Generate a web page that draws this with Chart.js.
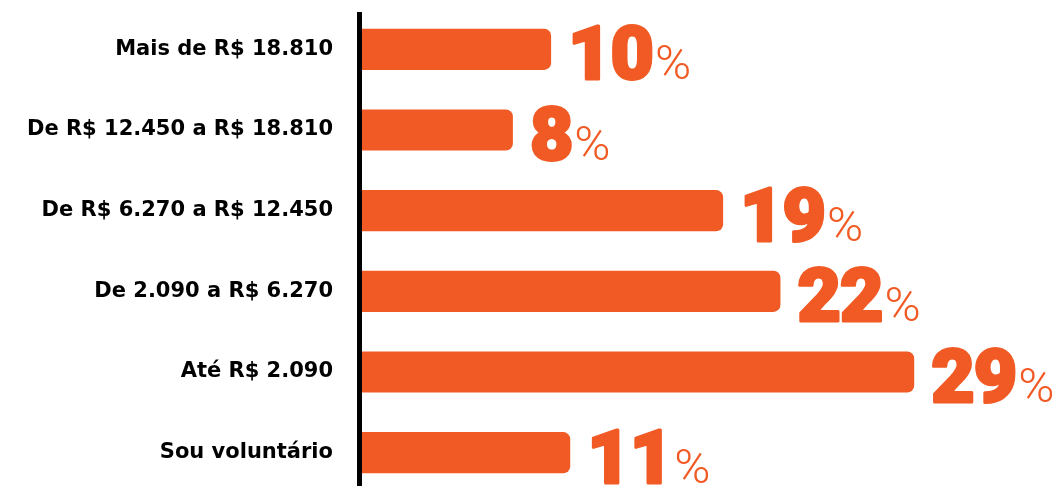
<!DOCTYPE html>
<html>
<head>
<meta charset="UTF-8" />
<script src="https://cdn.jsdelivr.net/npm/chart.js"></script>
<style>
  body, html {
    margin: 0;
    padding: 0;
    background: #ffffff;
    overflow: hidden;
  }
  #wrap {
    width: 1053px;
    height: 493px;
  }
</style>
</head>
<body>
<div id="wrap"><canvas id="myChart"></canvas></div>
<script>
  const faixas = [
    'Mais de R$ 18.810',
    'De R$ 12.450 a R$ 18.810',
    'De R$ 6.270 a R$ 12.450',
    'De 2.090 a R$ 6.270',
    'Até R$ 2.090',
    'Sou voluntário'
  ];
  const percentuais = [10, 8, 19, 22, 29, 11];

  const LARANJA = '#f15a24';

  // big number + thin "%" after each bar
  const valueLabels = {
    id: 'valueLabels',
    afterDatasetsDraw(chart) {
      const ctx = chart.ctx;
      const meta = chart.getDatasetMeta(0);
      ctx.save();
      ctx.fillStyle = LARANJA;
      ctx.strokeStyle = LARANJA;
      ctx.lineWidth = 3;
      ctx.lineJoin = 'round';
      ctx.textBaseline = 'alphabetic';
      ctx.textAlign = 'left';
      meta.data.forEach((bar, i) => {
        const num = String(percentuais[i]);
        const x = bar.x + 17;
        const base = bar.y + 30;
        ctx.font = '900 75px Roboto';
        ctx.letterSpacing = '-1px';
        ctx.fillText(num, x, base);
        ctx.strokeText(num, x, base);
        const w = ctx.measureText(num).width;
        ctx.letterSpacing = '0px';
        ctx.font = '300 49px Roboto';
        ctx.fillText('%', x + w + 2, base);
      });
      // vertical axis line
      const a = chart.chartArea;
      ctx.fillStyle = '#000000';
      ctx.fillRect(a.left - 3, a.top + 3, 5, a.bottom - a.top);
      ctx.restore();
    }
  };

  const ctx = document.getElementById('myChart').getContext('2d');
  new Chart(ctx, {
    type: 'bar',
    data: {
      labels: faixas,
      datasets: [{
        data: percentuais,
        backgroundColor: LARANJA,
        borderRadius: 7,
        barPercentage: 0.51,
        categoryPercentage: 1
      }]
    },
    options: {
      indexAxis: 'y',
      responsive: true,
      maintainAspectRatio: false,
      animation: false,
      layout: { padding: { top: 9, right: 5, bottom: 0, left: 0 } },
      plugins: {
        legend: { display: false },
        tooltip: { enabled: false }
      },
      scales: {
        x: {
          display: false,
          min: 0,
          max: 36
        },
        y: {
          afterFit: (s) => {
            s.width = 360;
            s.paddingTop = 0;
            s.paddingBottom = 0;
          },
          grid: { display: false, drawTicks: false },
          border: { display: false },
          ticks: {
            padding: 27,
            color: '#000000',
            font: { family: 'DejaVu Sans', weight: 'bold', size: 21 }
          }
        }
      }
    },
    plugins: [valueLabels]
  });
</script>
</body>
</html>
